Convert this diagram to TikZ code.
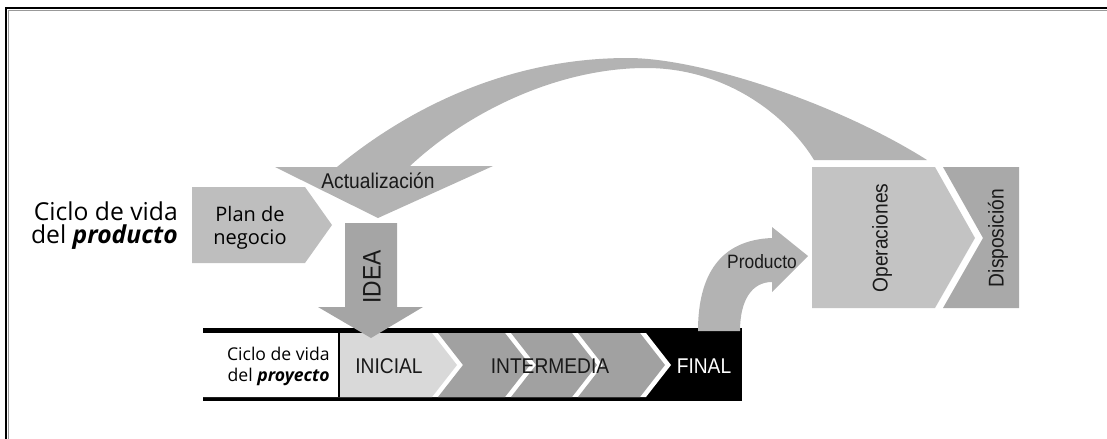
\documentclass[tikz,border=0pt]{standalone}
\usepackage{fontspec}
\setmainfont{Open Sans}
\newfontfamily\narrowfont[FakeStretch=0.9]{Liberation Sans}

\definecolor{plangray}{HTML}{BEBEBE}
\definecolor{loopgray}{HTML}{B3B3B3}
\definecolor{ideagray}{HTML}{A5A5A5}
\definecolor{inicialgray}{HTML}{D9D9D9}
\definecolor{stagegray}{HTML}{A1A1A1}
\definecolor{opsgray}{HTML}{C3C3C3}
\definecolor{dispgray}{HTML}{A9A9A9}

\begin{document}
\begin{tikzpicture}[x=0.75pt, y=-0.75pt,
    narrow/.style={inner sep=0pt, text=black!90, font=\narrowfont\fontsize{16}{18}\selectfont},
    open/.style={inner sep=0pt, align=#1}]

\useasboundingbox (0,0) rectangle (1107,439);

% frame, only top and left show
\draw[black!40, line width=0.8pt] (8.6,439) -- (8.6,10.6) -- (1107,10.6);
\draw[line width=1.8pt] (6,439) -- (6,8) -- (1107,8);

% Actualizacion loop
\fill[loopgray] (275,167) -- (337,167)
  .. controls (400,115) and (500,58) .. (628,58)
  .. controls (700,58) and (837,103) .. (927,160)
  -- (814,160)
  .. controls (790,120) and (730,68) .. (646,68)
  .. controls (560,68) and (470,110) .. (410,166)
  -- (493,166) -- (378,218) -- cycle;
\node[narrow] (actual) at (378,181) {Actualización};

% product life cycle
\fill[plangray] (192,187) -- (305,187) -- (332,225) -- (305,263) -- (192,263) -- cycle;
\node[open=center, font=\fontsize{15}{17.25}\selectfont] (plan) at (250,228) {Plan de\\negocio};
\node[open=right, anchor=east, font=\fontsize{18.5}{17.25}\selectfont] (prodcycle) at (178,226)
  {Ciclo de vida\\del \textbf{\textit{producto}}};

% project life cycle bar
\fill[black] (203,328) rectangle (742,401);
\fill[white] (203,333) -- (646,333) -- (671,365) -- (646,397) -- (203,397) -- cycle;
\draw[line width=1.5pt] (338.5,333) -- (338.5,397);
\fill[inicialgray] (340,333) -- (432,333) -- (457,365) -- (432,397) -- (340,397) -- cycle;
\foreach \a/\b in {438/505, 511/572, 578/640}
  \fill[stagegray] (\a,333) -- (\b,333) -- (\b+25,365) -- (\b,397) -- (\a,397) -- (\a+25,365) -- cycle;
\node[open=right, anchor=east, font=\fontsize{13.2}{15.75}\selectfont] (projcycle) at (330,366)
  {Ciclo de vida\\del \textbf{\textit{proyecto}}};
\node[narrow] (inicial) at (389,366) {INICIAL};
\node[narrow] (intermedia) at (550,366) {INTERMEDIA};
\node[narrow, text=white] (final) at (704,366) {FINAL};

% IDEA
\fill[ideagray] (345,223) -- (397,223) -- (397,307) -- (423,307) -- (371,338) -- (318,307) -- (345,307) -- cycle;
\node[narrow, rotate=90, font=\narrowfont\fontsize{19}{20}\selectfont] (idea) at (372,277) {IDEA};

% Producto
\fill[loopgray] (698,331) .. controls (698,275) and (720,240) .. (772,238)
  -- (772,227) -- (808,256) -- (772,292) -- (772,282)
  .. controls (752,282) and (740,300) .. (740,331) -- cycle;
\node[narrow, font=\narrowfont\fontsize{14.5}{16}\selectfont] (producto) at (762,262) {Producto};

% Operaciones, Disposicion
\fill[opsgray] (812,167) -- (935,167) -- (975,238) -- (935,308) -- (812,308) -- cycle;
\fill[dispgray] (943,167) -- (1019,167) -- (1019,308) -- (943,308) -- (983,238) -- cycle;
\node[narrow, rotate=90] (ops) at (882,238) {Operaciones};
\node[narrow, rotate=90] (disp) at (998,238) {Disposición};

\end{tikzpicture}
\end{document}
